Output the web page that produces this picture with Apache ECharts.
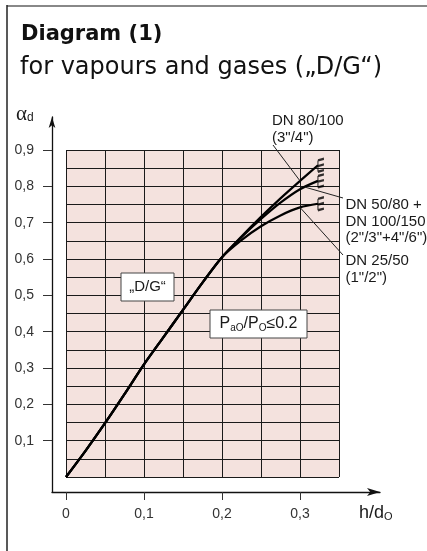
<!DOCTYPE html>
<html><head><meta charset="utf-8">
<script src="https://cdn.jsdelivr.net/npm/echarts@6/dist/echarts.min.js"></script>
<style>html,body{margin:0;padding:0;background:#fff}#c{width:427px;height:551px}</style>
</head><body><div id="c"></div>
<script>
// ---- data ----
const xCommon     = [0, 0.025, 0.05, 0.075, 0.1, 0.125, 0.15, 0.175, 0.2];
const alphaCommon = [0, 0.072, 0.148, 0.228, 0.31, 0.385, 0.46, 0.535, 0.605];
const xBranch   = [0.2, 0.225, 0.25, 0.275, 0.3, 0.323];
const alphaDN80 = [0.605, 0.662, 0.716, 0.767, 0.815, 0.858];
const alphaDN50 = [0.605, 0.660, 0.710, 0.755, 0.792, 0.815];
const alphaDN25 = [0.605, 0.652, 0.690, 0.720, 0.742, 0.752];
const xTickValues = [0, 0.1, 0.2, 0.3];
const yTickValues = [0.1, 0.2, 0.3, 0.4, 0.5, 0.6, 0.7, 0.8, 0.9];
const seriesNames = ['DN 80/100', 'DN 50/80 + DN 100/150', 'DN 25/50'];

// ---- layout ----
const G0 = {left: 66, top: 150, width: 273, height: 327};
const X0MAX = 0.35, Y0MAX = 0.9;
const pxX = G0.width / X0MAX, pxY = G0.height / Y0MAX;
const G1 = {left: 52, top: 117, width: 328, height: 375};
const x1min = -(G0.left - G1.left) / pxX, x1max = x1min + G1.width / pxX;
const y1min = -((G1.top + G1.height) - (G0.top + G0.height)) / pxY, y1max = y1min + G1.height / pxY;

function curve(branch) {
  return xCommon.map((x, i) => [x, alphaCommon[i]])
    .concat(xBranch.slice(1).map((x, i) => [x, branch[i + 1]]));
}
const branches = [alphaDN80, alphaDN50, alphaDN25];
const last = xBranch.length - 1;
const fmt = v => v === 0 ? '0' : v.toFixed(1).replace('.', ',');
const markerPath = 'path://M0,0 L0,14 M0,0 L6,-2 M0,7 L6,5 M0,14 L6,12';

const chart = echarts.init(document.getElementById('c'), null, {renderer: 'canvas'});
const option = {
  animation: false,
  textStyle: {fontFamily: '"Liberation Sans", Arial, sans-serif'},
  grid: [
    Object.assign({show: true, backgroundColor: '#f4e2de', borderWidth: 0, outerBoundsMode: 'none', containLabel: false}, G0),
    Object.assign({show: false, outerBoundsMode: 'none', containLabel: false}, G1)
  ],
  xAxis: [
    {gridIndex: 0, type: 'value', min: 0, max: X0MAX, interval: 0.05,
     axisLine: {show: false}, axisTick: {show: false}, axisLabel: {show: false},
     splitLine: {show: true, lineStyle: {color: '#1a1a1a', width: 1}}},
    {gridIndex: 1, type: 'value', min: x1min, max: x1max,
     axisLine: {show: true, onZero: false, symbol: ['none', 'arrow'], symbolSize: [6, 13],
                lineStyle: {color: '#111', width: 1.3}},
     axisTick: {show: true, customValues: xTickValues, length: 8, lineStyle: {color: '#333', width: 1}},
     axisLabel: {show: true, customValues: xTickValues, formatter: fmt, margin: 15, fontSize: 14, color: '#333'},
     splitLine: {show: false}}
  ],
  yAxis: [
    {gridIndex: 0, type: 'value', min: 0, max: Y0MAX, interval: 0.05,
     axisLine: {show: false}, axisTick: {show: false}, axisLabel: {show: false},
     splitLine: {show: true, lineStyle: {color: '#1a1a1a', width: 1}}},
    {gridIndex: 1, type: 'value', min: y1min, max: y1max,
     axisLine: {show: true, onZero: false, symbol: ['none', 'arrow'], symbolSize: [5, 11],
                lineStyle: {color: '#111', width: 1.3}},
     axisTick: {show: true, customValues: yTickValues, length: 9, lineStyle: {color: '#333', width: 1}},
     axisLabel: {show: true, customValues: yTickValues, formatter: fmt, margin: 18, fontSize: 14, color: '#333'},
     splitLine: {show: false}}
  ],
  series: branches.map((b, i) => ({
    name: seriesNames[i], type: 'line', xAxisIndex: 0, yAxisIndex: 0,
    data: curve(b), smooth: 0.3, symbol: 'none',
    lineStyle: {color: '#000', width: 2.2}, z: 5
  })).concat([{
    type: 'scatter', xAxisIndex: 0, yAxisIndex: 0, z: 6,
    data: branches.map(b => [xBranch[last], b[last]]),
    symbol: markerPath, symbolSize: [6, 13], symbolOffset: [3, 0],
    itemStyle: {color: 'rgba(0,0,0,0)', borderColor: '#000', borderWidth: 1.6}
  }])
};
chart.setOption(option);

const P = (x, y) => chart.convertToPixel({gridIndex: 0}, [x, y]);
const a80 = P(xBranch[4], alphaDN80[4]);
const a50 = P(xBranch[4] + 0.006, alphaDN50[4] + 0.006);
const a25 = P(xBranch[4], alphaDN25[4]);
const txt = '#1a1a1a';
const lbl = (x, y, t) => ({type: 'text', x, y, z: 10,
  style: {text: t, font: '15px "Liberation Sans", Arial, sans-serif', fill: txt, lineHeight: 16.3, verticalAlign: 'top', align: 'left'}});
const line = (x1, y1, x2, y2, c, w) => ({type: 'line', z: 9, shape: {x1, y1, x2, y2}, style: {stroke: c, lineWidth: w}});

chart.setOption({graphic: [
  line(7, 6, 427, 6, '#888', 2),
  line(7, 5, 7, 551, '#222', 1.5),
  {type: 'text', x: 21, y: 35, style: {text: 'Diagram (1)', font: 'bold 21px "DejaVu Sans", sans-serif', fill: '#111', verticalAlign: 'middle'}},
  {type: 'text', x: 20, y: 68, style: {text: 'for vapours and gases (\u201eD/G\u201c)', font: '24px "DejaVu Sans", sans-serif', fill: '#111', verticalAlign: 'middle'}},
  {type: 'text', x: 16, y: 114, style: {text: '{a|\u03b1}{s|d}', verticalAlign: 'middle', fill: txt,
    rich: {a: {fontFamily: '"Liberation Serif", serif', fontSize: 21, lineHeight: 20, fill: txt},
           s: {fontFamily: '"Liberation Sans", sans-serif', fontSize: 12, lineHeight: 10, verticalAlign: 'bottom', fill: txt}}}},
  {type: 'text', x: 359, y: 513, style: {text: '{m|h/d}{s|O}', verticalAlign: 'middle', fill: txt,
    rich: {m: {fontFamily: '"Liberation Sans", sans-serif', fontSize: 18, lineHeight: 18, fill: txt},
           s: {fontFamily: '"Liberation Sans", sans-serif', fontSize: 11, lineHeight: 9, verticalAlign: 'bottom', fill: txt}}}},
  lbl(272, 113, 'DN 80/100\n(3"/4")'),
  lbl(345.5, 197, 'DN 50/80 +\nDN 100/150\n(2"/3"+4"/6")'),
  lbl(345.5, 253, 'DN 25/50\n(1"/2")'),
  line(273, 145, a80[0], a80[1], '#222', 1),
  line(a50[0], a50[1], 343, 198, '#222', 1),
  line(a25[0], a25[1], 343, 255, '#222', 1),
  {type: 'rect', z: 10, shape: {x: 121, y: 273, width: 53, height: 28}, style: {fill: '#fff', stroke: '#444', lineWidth: 1}},
  {type: 'text', z: 11, x: 147.5, y: 287, style: {text: '\u201eD/G\u201c', font: '15px "Liberation Sans", sans-serif', fill: txt, align: 'center', verticalAlign: 'middle'}},
  {type: 'rect', z: 10, shape: {x: 210, y: 310, width: 97, height: 28}, style: {fill: '#fff', stroke: '#444', lineWidth: 1}},
  {type: 'text', z: 11, x: 258.5, y: 324, style: {text: '{m|P}{s|aO}{m|/P}{s|O}{m|\u22640.2}', align: 'center', verticalAlign: 'middle', fill: txt,
    rich: {m: {fontFamily: '"Liberation Sans", sans-serif', fontSize: 16, lineHeight: 18, fill: txt},
           s: {fontFamily: '"Liberation Sans", sans-serif', fontSize: 10, lineHeight: 10, verticalAlign: 'bottom', fill: txt}}}}
]});
</script></body></html>
